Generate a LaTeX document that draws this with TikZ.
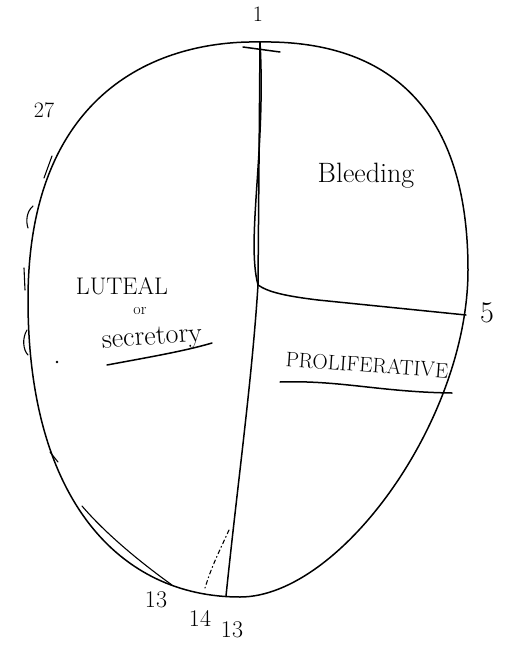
\documentclass[tikz,border=0pt]{standalone}
\begin{document}
\begin{tikzpicture}[x=1pt,y=-1pt,
  pen/.style={line width=1.5pt,line cap=round,line join=round},
  thin pen/.style={line width=1.1pt,line cap=round},
  hand/.style={inner sep=0pt,font=\fontsize{22}{24}\selectfont}]
\useasboundingbox (0,0) rectangle (510,659);
% key points
\coordinate (top) at (260,42);
\coordinate (mid) at (258,285);
\coordinate (rgt) at (466,315);
\coordinate (bot) at (226,596);
\coordinate (oR) at (468,270);
\coordinate (oB) at (240,597);
\coordinate (oL) at (28,300);
% outline
\draw[pen] (top) .. controls (380,40) and (468,100) .. (oR)
  .. controls (468,420) and (340,597) .. (oB)
  .. controls (120,597) and (28,500) .. (oL)
  .. controls (28,90) and (160,40) .. cycle;
\coordinate (xl) at (243,47);
\coordinate (xr) at (280,52);
\coordinate (d1) at (229,530);
\coordinate (d2) at (205,588);
% dividing lines
\draw[pen] (top) -- (mid);
\draw[pen] (top) .. controls (266,150) and (246,240) .. (mid);
\draw[pen] (mid) .. controls (268,292) and (285,296) .. (318,300) -- (rgt);
\draw[pen] (mid) .. controls (252,380) and (238,480) .. (bot);
\draw[pen] (xl) -- (xr);
\draw[thin pen,dash pattern=on 4pt off 3pt on 1pt off 3pt] (d1) .. controls (220,550) and (212,565) .. (d2);
% sketch strokes
\coordinate (s1) at (82,506);
\coordinate (s2) at (172,585);
\draw[thin pen] (s1) .. controls (106,534) and (140,562) .. (s2);
\coordinate (t1) at (52,156);
\coordinate (t2) at (44,178);
\draw[thin pen] (t1) -- (t2);
\coordinate (t3) at (33,206);
\coordinate (t4) at (28,228);
\draw[thin pen] (t3) .. controls (26,212) and (26,222) .. (t4);
\coordinate (t5) at (24,268);
\coordinate (t6) at (25,290);
\draw[thin pen] (t5) -- (t6);
\coordinate (t7) at (27,330);
\coordinate (t8) at (28,355);
\draw[thin pen] (t7) .. controls (22,338) and (23,350) .. (t8);
\coordinate (t9) at (50,452);
\coordinate (t10) at (58,462);
\draw[thin pen] (t9) -- (t10);
\fill (57,362) circle (1.3pt);
% labels
\node[hand] (one) at (258,14) {1};
\node[hand] (l27) at (44,110) {27};
\node[hand,font=\fontsize{28}{30}\selectfont] (bleed) at (366,176) {Bleeding};
\node[hand,font=\fontsize{30}{32}\selectfont] (five) at (487,313) {5};
\node[hand,font=\fontsize{24}{26}\selectfont] (luteal) at (122,286) {LUTEAL};
\node[hand,font=\fontsize{16}{18}\selectfont] (or) at (140,311) {or};
\node[hand,rotate=4,font=\fontsize{28}{30}\selectfont] (secr) at (152,339) {secretory};
\coordinate (u1) at (107,365);
\coordinate (u2) at (212,343);
\draw[pen] (u1) .. controls (150,357) and (185,351) .. (u2);
\node[hand,rotate=-4,font=\fontsize{21}{22}\selectfont] (prolif) at (367,365) {PROLIFERATIVE};
\coordinate (p1) at (280,382);
\coordinate (p2) at (452,393);
\draw[pen] (p1) .. controls (340,380) and (380,392) .. (p2);
\node[hand,font=\fontsize{24}{26}\selectfont] (l13) at (156,600) {13};
\node[hand,font=\fontsize{24}{26}\selectfont] (l14) at (200,618) {14};
\node[hand,font=\fontsize{24}{26}\selectfont] (l13b) at (232,630) {13};
\end{tikzpicture}
\end{document}
